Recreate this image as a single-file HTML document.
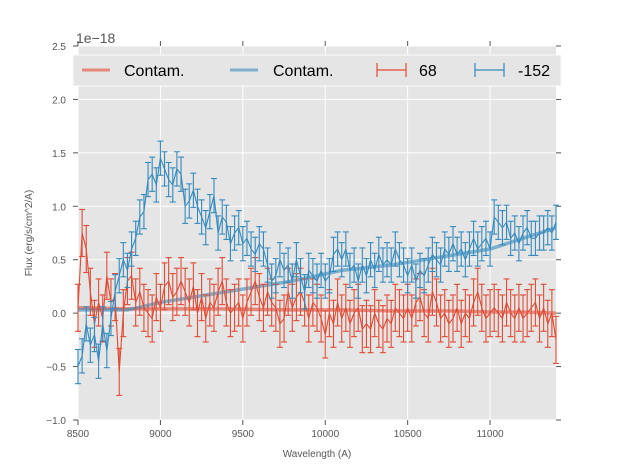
<!DOCTYPE html>
<html><head><meta charset="utf-8"><style>
body{margin:0;background:#fff}
svg{display:block;font-family:"Liberation Sans","DejaVu Sans",sans-serif}
</style></head><body>
<svg id="chart" width="617" height="467" viewBox="0 0 617 467">
<rect x="78" y="46" width="478" height="374" fill="#e5e5e5"/>
<g id="grid"></g><g id="ticks"></g><g id="series"></g>
<text x="76" y="43" font-size="14" fill="#555">1e−18</text>
<text x="317" y="457" font-size="10" fill="#555" text-anchor="middle">Wavelength (A)</text>
<text transform="translate(32,233) rotate(-90)" font-size="10" fill="#555" text-anchor="middle">Flux (erg/s/cm^2/A)</text>
<g>
<rect x="73" y="55" width="488" height="31" fill="#e5e5e5" stroke="#fafafa" stroke-width="1"/>
<line x1="82" y1="70" x2="110" y2="70" stroke="#E24A33" stroke-opacity="0.6" stroke-width="3"/>
<text x="124" y="76" font-size="16" fill="#000">Contam.</text>
<line x1="230" y1="70" x2="258" y2="70" stroke="#348ABD" stroke-opacity="0.6" stroke-width="3"/>
<text x="273" y="76" font-size="16" fill="#000">Contam.</text>
<g stroke="#E24A33" stroke-width="1.2"><line x1="377" y1="70" x2="406" y2="70"/><line x1="377" y1="63" x2="377" y2="77"/><line x1="406" y1="63" x2="406" y2="77"/></g>
<text x="419" y="76" font-size="16" fill="#000">68</text>
<g stroke="#348ABD" stroke-width="1.2"><line x1="475" y1="70" x2="504" y2="70"/><line x1="475" y1="63" x2="475" y2="77"/><line x1="504" y1="63" x2="504" y2="77"/></g>
<text x="518" y="76" font-size="16" fill="#000">-152</text>
</g>
</svg>
<script>
const xTicks=[8500,9000,9500,10000,10500,11000];
const yTicks=[-1.0,-0.5,0.0,0.5,1.0,1.5,2.0,2.5];
const wlStart=8500, wlStep=25;
const fluxBlue=[-0.5,-0.4,-0.1,-0.3,-0.2,-0.45,-0.1,-0.35,-0.05,0.2,0.35,0.5,0.4,0.6,0.7,0.9,0.95,1.25,1.3,1.2,1.45,1.35,1.25,1.2,1.35,1.3,1.0,1.05,1.15,1.0,0.9,0.8,0.95,1.1,0.75,0.9,0.85,0.65,0.75,0.8,0.65,0.7,0.6,0.55,0.65,0.6,0.45,0.3,0.35,0.5,0.4,0.45,0.3,0.5,0.35,0.2,0.4,0.35,0.3,0.4,0.3,0.35,0.55,0.6,0.5,0.6,0.4,0.45,0.3,0.45,0.35,0.5,0.4,0.55,0.45,0.5,0.45,0.6,0.5,0.45,0.35,0.45,0.3,0.4,0.35,0.45,0.55,0.5,0.45,0.6,0.55,0.65,0.55,0.6,0.5,0.6,0.7,0.6,0.65,0.7,0.6,0.9,0.85,0.8,0.85,0.7,0.75,0.65,0.75,0.8,0.7,0.7,0.75,0.75,0.8,0.75,0.85];
const errBlue=0.16;
const fluxRed=[0.05,0.75,0.6,0.2,-0.1,0.1,-0.05,0.35,0.1,0.15,-0.55,0.0,0.3,0.35,0.1,0.2,0.05,0.0,-0.05,0.15,0.05,0.25,0.3,0.15,0.2,0.3,0.2,0.1,0.25,0.0,0.15,-0.05,0.1,0.05,0.2,0.3,0.1,0.0,0.05,0.1,-0.05,0.1,0.2,0.3,0.15,0.05,0.2,0.1,0.05,-0.1,-0.05,0.2,0.05,0.15,0.2,0.1,-0.05,0.1,0.05,-0.05,-0.2,0.0,-0.1,0.1,-0.05,0.05,-0.1,0.0,0.05,-0.15,-0.1,-0.15,0.0,-0.1,-0.15,-0.05,-0.1,0.05,0.0,-0.05,0.05,-0.05,0.1,0.15,0.0,-0.05,0.2,0.1,-0.05,0.0,-0.1,-0.05,0.05,-0.1,0.0,-0.05,0.1,0.2,0.05,-0.05,0.0,0.05,0.0,-0.05,0.1,0.0,-0.05,0.05,-0.05,0.0,0.05,0.1,-0.05,0.05,-0.1,0.0,-0.25];
const errRed=0.22;
const contamWl=[8500,8800,9000,9400,9800,10100,10400,10600,10800,11000,11200,11400];
const contamBlue=[0.03,0.03,0.1,0.2,0.3,0.4,0.45,0.5,0.55,0.6,0.7,0.8];
const contamRed=[0.05,0.04,0.04,0.04,0.03,0.03,0.02,0.02,0.02,0.01,0.01,0.0];
const X0=78,X1=556,Y0=420,Y1=46,xmin=8500,xmax=11400,ymin=-1,ymax=2.5;
const sx=v=>X0+(v-xmin)/(xmax-xmin)*(X1-X0);
const sy=v=>Y0-(v-ymin)/(ymax-ymin)*(Y0-Y1);
const NS='http://www.w3.org/2000/svg';
function mk(tag,attrs,parent){const e=document.createElementNS(NS,tag);for(const k in attrs)e.setAttribute(k,attrs[k]);parent.appendChild(e);return e;}
const grid=document.getElementById('grid'),ticks=document.getElementById('ticks'),ser=document.getElementById('series');
xTicks.forEach(t=>{const x=sx(t);
 let g=mk('line',{x1:x,x2:x,y1:Y1,y2:Y0,stroke:'#fff','stroke-width':1},grid);
 
 
 mk('line',{x1:x,x2:x,y1:Y0,y2:Y0+5,stroke:'#555'},ticks);
 mk('line',{x1:x,x2:x,y1:Y1,y2:Y1-5,stroke:'#555'},ticks);
 let l=mk('text',{x:x,y:Y0+17,'font-size':10,fill:'#555','text-anchor':'middle'},ticks);l.textContent=t;
 
 
});
yTicks.forEach(t=>{const y=sy(t);
 let g=mk('line',{x1:X0,x2:X1,y1:y,y2:y,stroke:'#fff','stroke-width':1},grid);
 
 
 mk('line',{x1:X0-5,x2:X0,y1:y,y2:y,stroke:'#555'},ticks);
 mk('line',{x1:X1,x2:X1+5,y1:y,y2:y,stroke:'#555'},ticks);
 let l=mk('text',{x:X0-12,y:y+4,'font-size':10,fill:'#555','text-anchor':'end'},ticks);l.textContent=t.toFixed(1).replace('-','\u2212');
 
 
});
function contam(vals,color,name){
 const pts=vals.map((v,i)=>sx(contamWl[i])+','+sy(v)).join(' ');
 const p=mk('polyline',{points:pts,fill:'none',stroke:color,'stroke-opacity':0.6,'stroke-width':3.5},ser);
 
 
}
function errSeries(vals,err,color,name){
 const g=mk('g',{stroke:color,'stroke-width':1.1,fill:'none'},ser);
 
 
 vals.forEach((v,i)=>{const x=sx(wlStart+wlStep*i);const a=sy(v+err),b=sy(v-err);
  mk('line',{x1:x,x2:x,y1:a,y2:b},g);
  mk('line',{x1:x-3,x2:x+3,y1:a,y2:a},g);
  mk('line',{x1:x-3,x2:x+3,y1:b,y2:b},g);
 });
 mk('polyline',{points:vals.map((v,i)=>sx(wlStart+wlStep*i)+','+sy(v)).join(' ')},g);
}
contam(contamRed,'#E24A33','contam-line-red');
contam(contamBlue,'#348ABD','contam-line-blue');
errSeries(fluxRed,errRed,'#E24A33','series-68');
errSeries(fluxBlue,errBlue,'#348ABD','series-152');
</script>
</body></html>
